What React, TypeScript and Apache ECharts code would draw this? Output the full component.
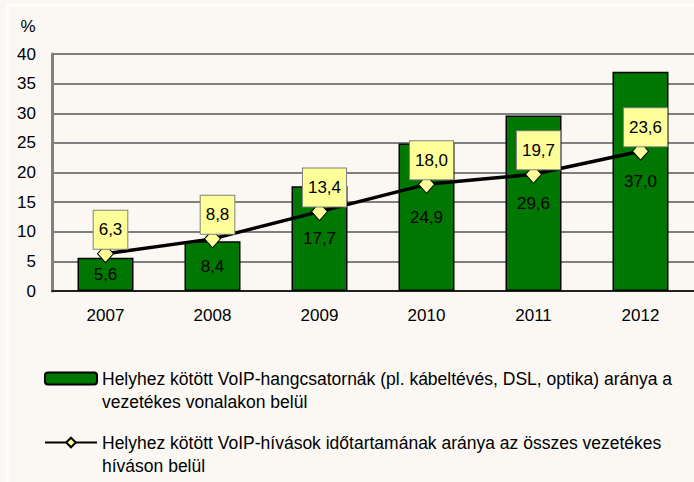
import React, { useEffect, useRef } from "react";
import * as echarts from "echarts";

const categories = ["2007", "2008", "2009", "2010", "2011", "2012"];
const barValues = [5.6, 8.4, 17.7, 24.9, 29.6, 37.0];
const lineValues = [6.3, 8.8, 13.4, 18.0, 19.7, 23.6];
const barName = "Helyhez kötött VoIP-hangcsatornák (pl. kábeltévés, DSL, optika) aránya a vezetékes vonalakon belül";
const lineName = "Helyhez kötött VoIP-hívások időtartamának aránya az összes vezetékes híváson belül";
const legendText: Record<string, string> = {
  [barName]: "Helyhez kötött VoIP-hangcsatornák (pl. kábeltévés, DSL, optika) aránya a\nvezetékes vonalakon belül",
  [lineName]: "Helyhez kötött VoIP-hívások időtartamának aránya az összes vezetékes\nhíváson belül",
};
const yMin = 0;
const yMax = 40;
const yInterval = 5;
const yName = "%";

const FONT = "'Liberation Sans', Arial, sans-serif";
const fmt = (v: number) => v.toFixed(1).replace(".", ",");

export default function App() {
  const ref = useRef<HTMLDivElement>(null);
  useEffect(() => {
    if (!ref.current) return;
    const chart = echarts.init(ref.current, null, { renderer: "svg" });
    chart.setOption({
      animation: false,
      backgroundColor: "#fbf8f4",
      textStyle: { fontFamily: FONT },
      graphic: [
        { type: "line", shape: { x1: 7.5, y1: 5.5, x2: 7.5, y2: 482 }, style: { stroke: "#ffffff", lineWidth: 2 } },
        { type: "line", shape: { x1: 7.5, y1: 5.5, x2: 694, y2: 5.5 }, style: { stroke: "#ffffff", lineWidth: 2 } },
      ],
      grid: { left: 52, right: 0, top: 54, bottom: 191, containLabel: false },
      legend: {
        orient: "vertical",
        left: 44,
        top: 344,
        padding: 0,
        itemGap: -5,
        itemWidth: 52,
        itemHeight: 12,
        selectedMode: false,
        data: [barName, lineName],
        formatter: (name: string) => "\n" + (legendText[name] || name),
        textStyle: {
          fontFamily: FONT,
          fontSize: 17.5,
          color: "#000",
          lineHeight: 23,
        },
      },
      xAxis: {
        type: "category",
        data: categories,
        axisLine: { show: true, lineStyle: { color: "#000", width: 1.5 } },
        axisTick: { show: false },
        axisLabel: { color: "#000", fontSize: 17, fontFamily: FONT, margin: 16 },
      },
      yAxis: {
        type: "value",
        min: yMin,
        max: yMax,
        interval: yInterval,
        name: yName,
        nameLocation: "end",
        nameGap: 19,
        nameTextStyle: { color: "#000", fontSize: 17, fontFamily: FONT, padding: [0, 48, 0, 0] },
        axisLine: { show: true, lineStyle: { color: "#808080", width: 3 } },
        axisTick: { show: false },
        splitLine: { show: true, lineStyle: { color: "#808080", width: 2 } },
        axisLabel: { color: "#000", fontSize: 17, fontFamily: FONT, margin: 16 },
      },
      series: [
        {
          name: barName,
          type: "bar",
          data: barValues,
          barWidth: 56,
          itemStyle: { color: "#007700", borderColor: "#000", borderWidth: 1.5 },
          label: {
            show: true,
            position: "inside",
            color: "#000",
            fontSize: 17,
            fontFamily: FONT,
            formatter: (p: any) => fmt(p.value),
          },
        },
        {
          name: lineName,
          type: "line",
          data: lineValues,
          symbol: "diamond",
          symbolSize: [16, 18],
          showSymbol: true,
          lineStyle: { color: "#000", width: 3.5 },
          itemStyle: { color: "#ffff99", borderColor: "#000", borderWidth: 1 },
          label: {
            show: true,
            position: "top",
            distance: -4.5,
            offset: [5, 0],
            color: "#000",
            fontSize: 17,
            fontFamily: FONT,
            lineHeight: 18,
            backgroundColor: "#ffff99",
            borderColor: "#808080",
            borderWidth: 1,
            padding: [10, 5, 10, 5],
            formatter: (p: any) => fmt(p.value),
          },
          z: 3,
        },
      ],
    });
    return () => chart.dispose();
  }, []);
  return (
    <div
      ref={ref}
      style={{ position: "fixed", left: 0, top: 0, width: 694, height: 482 }}
    />
  );
}
